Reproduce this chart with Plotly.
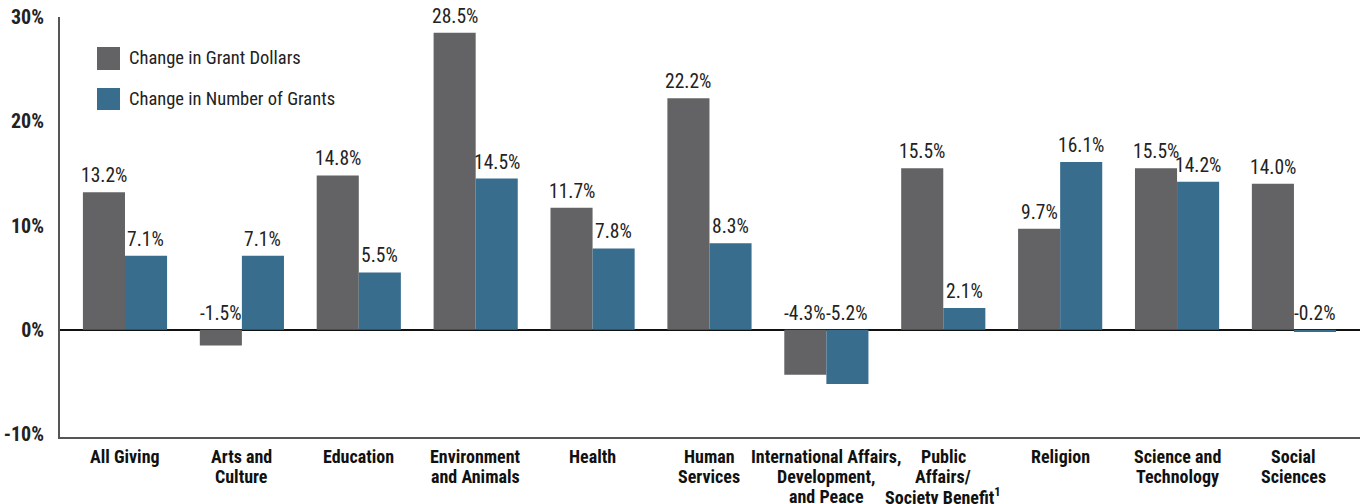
import plotly.graph_objects as go

categories = ["All Giving", "Arts and<br>Culture", "Education", "Environment<br>and Animals", "Health",
              "Human<br>Services", "International Affairs,<br>Development,<br>and Peace",
              "Public<br>Affairs/<br>Society Benefit<sup>1</sup>", "Religion",
              "Science and<br>Technology", "Social<br>Sciences"]
grant_dollars = [13.2, -1.5, 14.8, 28.5, 11.7, 22.2, -4.3, 15.5, 9.7, 15.5, 14.0]
num_grants = [7.1, 7.1, 5.5, 14.5, 7.8, 8.3, -5.2, 2.1, 16.1, 14.2, -0.2]
series_names = ["Change in Grant Dollars", "Change in Number of Grants"]
tick_vals = [-10, 0, 10, 20, 30]
tick_text = ["-10%", "0%", "10%", "20%", "30%"]

GRAY = "#636365"
BLUE = "#386d8e"
FONT = "Roboto Condensed, Liberation Sans Narrow, Arial Narrow, sans-serif"

fig = go.Figure()
fig.add_trace(go.Bar(x=categories, y=grant_dollars, name=series_names[0], showlegend=False,
                     marker=dict(color=GRAY, line=dict(width=0))))
fig.add_trace(go.Bar(x=categories, y=num_grants, name=series_names[1], showlegend=False,
                     marker=dict(color=BLUE, line=dict(width=0))))

annotations = []
# value labels
for i, c in enumerate(categories):
    for vals, shift in ((grant_dollars, -21), (num_grants, 21)):
        v = vals[i]
        annotations.append(dict(x=c, y=max(v, 0), text=f"{v:.1f}%", showarrow=False,
                                xshift=shift, yshift=3, yanchor="bottom",
                                font=dict(family=FONT, size=19.5, color="#222")))
# category labels (manual, tight line spacing)
for c in categories:
    for j, line in enumerate(c.split("<br>")):
        annotations.append(dict(x=c, y=0, yref="paper", text=line, showarrow=False,
                                yanchor="middle", yshift=-(19 + 20 * j),
                                font=dict(family=FONT, size=18, color="#111", weight="bold")))

# manual legend
shapes = []
plot_l, plot_w, plot_b, plot_h = 60, 1300, 437, 420
legend_rows = [(series_names[0], GRAY, 47, 70), (series_names[1], BLUE, 88, 110)]
for name, col, top, bot in legend_rows:
    shapes.append(dict(type="rect", xref="paper", yref="paper",
                       x0=(97 - plot_l) / plot_w, x1=(120 - plot_l) / plot_w,
                       y0=(plot_b - bot) / plot_h, y1=(plot_b - top) / plot_h,
                       fillcolor=col, line=dict(width=0)))
    annotations.append(dict(xref="paper", yref="paper", x=(127 - plot_l) / plot_w,
                            y=(plot_b - (top + bot) / 2) / plot_h, xanchor="left", yanchor="middle",
                            text=name, showarrow=False,
                            font=dict(family=FONT, size=18.5, color="#222")))

fig.update_layout(
    width=1368, height=504,
    margin=dict(l=60, r=8, t=17, b=67),
    plot_bgcolor="white", paper_bgcolor="white",
    barmode="group", bargap=0.28, bargroupgap=0,
    font=dict(family=FONT, color="#222"),
    showlegend=False,
    annotations=annotations,
    shapes=shapes,
    xaxis=dict(showline=True, linecolor="#555", linewidth=2, ticks="",
               showticklabels=False, automargin=False,
               range=[-0.556, 10.565], showgrid=False),
    yaxis=dict(range=[-10.28, 30], tickvals=tick_vals, ticktext=tick_text,
               showline=True, linecolor="#555", linewidth=2, showgrid=False,
               automargin=False,
               zeroline=True, zerolinecolor="#111", zerolinewidth=1.5,
               tickfont=dict(family=FONT, size=20, color="#222", weight="bold"),
               ticks="", ticklabelstandoff=10),
)

fig.write_html("out.html", config={"displayModeBar": False},
               post_script="document.body.style.margin='0';document.body.style.padding='0';")
